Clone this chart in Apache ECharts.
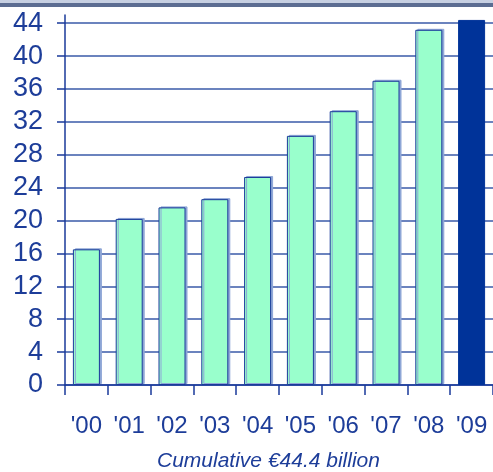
<!DOCTYPE html>
<html>
<head>
<meta charset="utf-8">
<script src="https://cdn.jsdelivr.net/npm/echarts@6/dist/echarts.min.js"></script>
<style>
  html, body { margin: 0; padding: 0; background: #fff; }
  #chart { width: 493px; height: 472px; }
</style>
</head>
<body>
<div id="chart"></div>
<script>
"use strict";
// years and cumulative amounts (EUR billion)
const years = ["'00", "'01", "'02", "'03", "'04", "'05", "'06", "'07", "'08", "'09"];
const values = [16.5, 20.2, 21.6, 22.6, 25.3, 30.3, 33.3, 37.0, 43.2, 44.4];
const yTicks = [0, 4, 8, 12, 16, 20, 24, 28, 32, 36, 40, 44];
const caption = 'Cumulative €44.4 billion';

const BLUE = '#1d3d99';
const myChart = echarts.init(document.getElementById('chart'));

const barData = values.map((v, i) => {
  const last = i === values.length - 1;
  return {
    value: v,
    itemStyle: last ? {
      color: '#003399', borderColor: '#003399', borderWidth: 1
    } : {
      color: '#99ffcc', borderColor: '#1a3a9a', borderWidth: 1,
      shadowColor: '#8ea6d6', shadowOffsetX: 2, shadowOffsetY: -1, shadowBlur: 0
    }
  };
});

// grid lines: one per tick, the top (45) one is the lighter plot border
const gridColors = yTicks.map(() => '#3a5aa8').concat(['#8ea6d6']);

myChart.setOption({
  animation: false,
  grid: { left: 65, right: -4, top: 15, bottom: 87 },
  graphic: [
    { type: 'rect', left: 0, top: 0, shape: { width: 493, height: 3 }, style: { fill: '#c7d0e2' } },
    { type: 'rect', left: 0, top: 3, shape: { width: 493, height: 4 }, style: { fill: '#5c6d92' } },
    {
      type: 'text', left: 157, top: 451,
      style: { text: caption, fill: BLUE, font: 'italic 21px "Liberation Sans", Arial, sans-serif' }
    }
  ],
  xAxis: {
    type: 'category',
    data: years,
    axisLine: { lineStyle: { color: '#1a3a9a', width: 1.5 } },
    axisTick: { show: true, length: 10, lineStyle: { color: '#1a3a9a', width: 1.5 } },
    axisLabel: { margin: 29, color: BLUE, fontSize: 24, fontFamily: 'Liberation Sans' }
  },
  yAxis: {
    type: 'value',
    min: 0,
    max: 45,
    interval: 4,
    axisLine: { show: true, lineStyle: { color: '#1a3a9a', width: 1.5 } },
    axisTick: { show: true, length: 8, customValues: yTicks, lineStyle: { color: '#1a3a9a', width: 1.5 } },
    axisLabel: { margin: 22, color: BLUE, fontSize: 27, fontFamily: 'Liberation Sans', customValues: yTicks },
    splitLine: { show: true, lineStyle: { color: gridColors, width: 1.5 } }
  },
  series: [
    {
      type: 'bar',
      barWidth: 27,
      data: barData
    }
  ]
});
</script>
</body>
</html>
